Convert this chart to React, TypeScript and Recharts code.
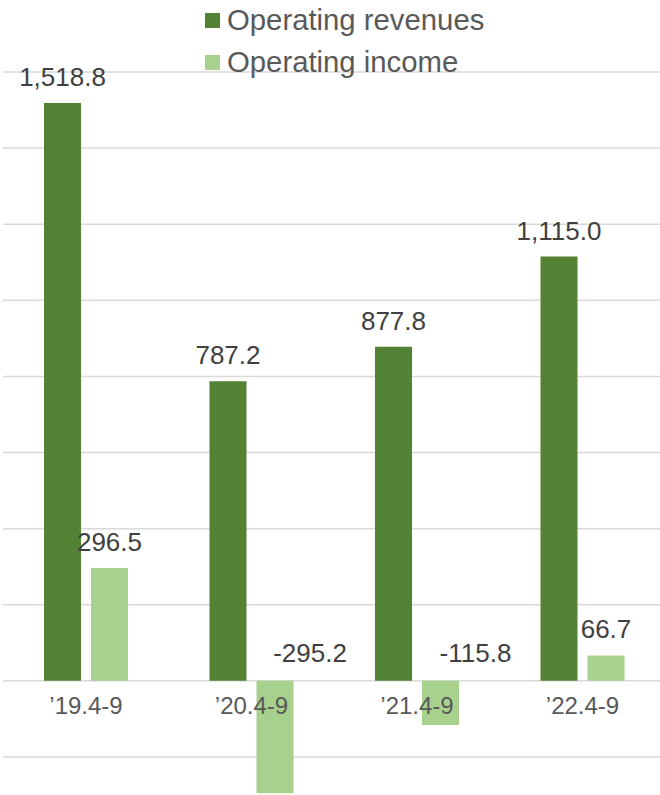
import { BarChart, Bar, XAxis, YAxis, CartesianGrid, LabelList } from 'recharts';

// ── Data ──────────────────────────────────────────────────────────────────────

const periods = ['’19.4-9', '’20.4-9', '’21.4-9', '’22.4-9'];
const revenues = [1518.8, 787.2, 877.8, 1115.0];
const income = [296.5, -295.2, -115.8, 66.7];
const yTicks = [-200, 0, 200, 400, 600, 800, 1000, 1200, 1400, 1600];

const seriesNames = ['Operating revenues', 'Operating income'];
const seriesColors = ['#548235', '#A9D18E'];

const data = periods.map((period, i) => ({
  period,
  revenues: revenues[i],
  income: income[i],
}));

const FONT = '"Liberation Sans", Arial, sans-serif';
const BAR_GAP = 10;

const fmt = (v: number) =>
  v.toLocaleString('en-US', { minimumFractionDigits: 1, maximumFractionDigits: 1 });

// ── Labels ────────────────────────────────────────────────────────────────────

function ValueLabel(props: any) {
  const { x, y, width, height, value } = props;
  const top = Math.min(y, y + height);
  const cx = x + width / 2;
  if (value < 0) {
    // negative bars: label sits above the zero line, nudged right
    return (
      <text x={cx + 35} y={top - 28} textAnchor="middle" dominantBaseline="central"
        fill="#404040" fontSize={26} fontFamily={FONT}>
        {fmt(value)}
      </text>
    );
  }
  return (
    <text x={cx} y={top - 26} textAnchor="middle" dominantBaseline="central"
      fill="#404040" fontSize={26} fontFamily={FONT}>
      {fmt(value)}
    </text>
  );
}

function PeriodLabel(props: any) {
  const { x, y, width, height, value } = props;
  const zero = Math.max(y, y + height);
  return (
    <text x={x + width + BAR_GAP / 2} y={zero + 25} textAnchor="middle" dominantBaseline="central"
      fill="#595959" fontSize={24} fontFamily={FONT}>
      {value}
    </text>
  );
}

// ── Chart ─────────────────────────────────────────────────────────────────────

export default function App() {
  return (
    <div style={{ position: 'absolute', left: 0, top: 0, width: 660, height: 795, overflow: 'hidden', background: '#fff' }}>
      <BarChart
        width={665}
        height={795}
        data={data}
        margin={{ top: 72, right: 0, left: 3, bottom: 0 }}
        barGap={BAR_GAP}
        barSize={37}
      >
        <CartesianGrid vertical={false} stroke="#D9D9D9" strokeWidth={1.5} horizontalValues={yTicks} />
        <XAxis dataKey="period" height={0} tick={false} axisLine={false} tickLine={false} />
        <YAxis hide domain={[-300, 1600]} ticks={yTicks} interval={0} />
        <Bar dataKey="revenues" fill={seriesColors[0]} isAnimationActive={false}>
          <LabelList dataKey="revenues" content={<ValueLabel />} />
          <LabelList dataKey="period" content={<PeriodLabel />} />
        </Bar>
        <Bar dataKey="income" fill={seriesColors[1]} isAnimationActive={false}>
          <LabelList dataKey="income" content={<ValueLabel />} />
        </Bar>
      </BarChart>

      {seriesNames.map((name, i) => (
        <div key={name} style={{
          position: 'absolute', left: 205, top: 3 + i * 42, height: 34,
          display: 'flex', alignItems: 'center',
          fontFamily: FONT, fontSize: 29.3, color: '#595959', whiteSpace: 'nowrap',
        }}>
          <span style={{ width: 15, height: 15, background: seriesColors[i], marginRight: 7 }} />
          {name}
        </div>
      ))}
    </div>
  );
}
